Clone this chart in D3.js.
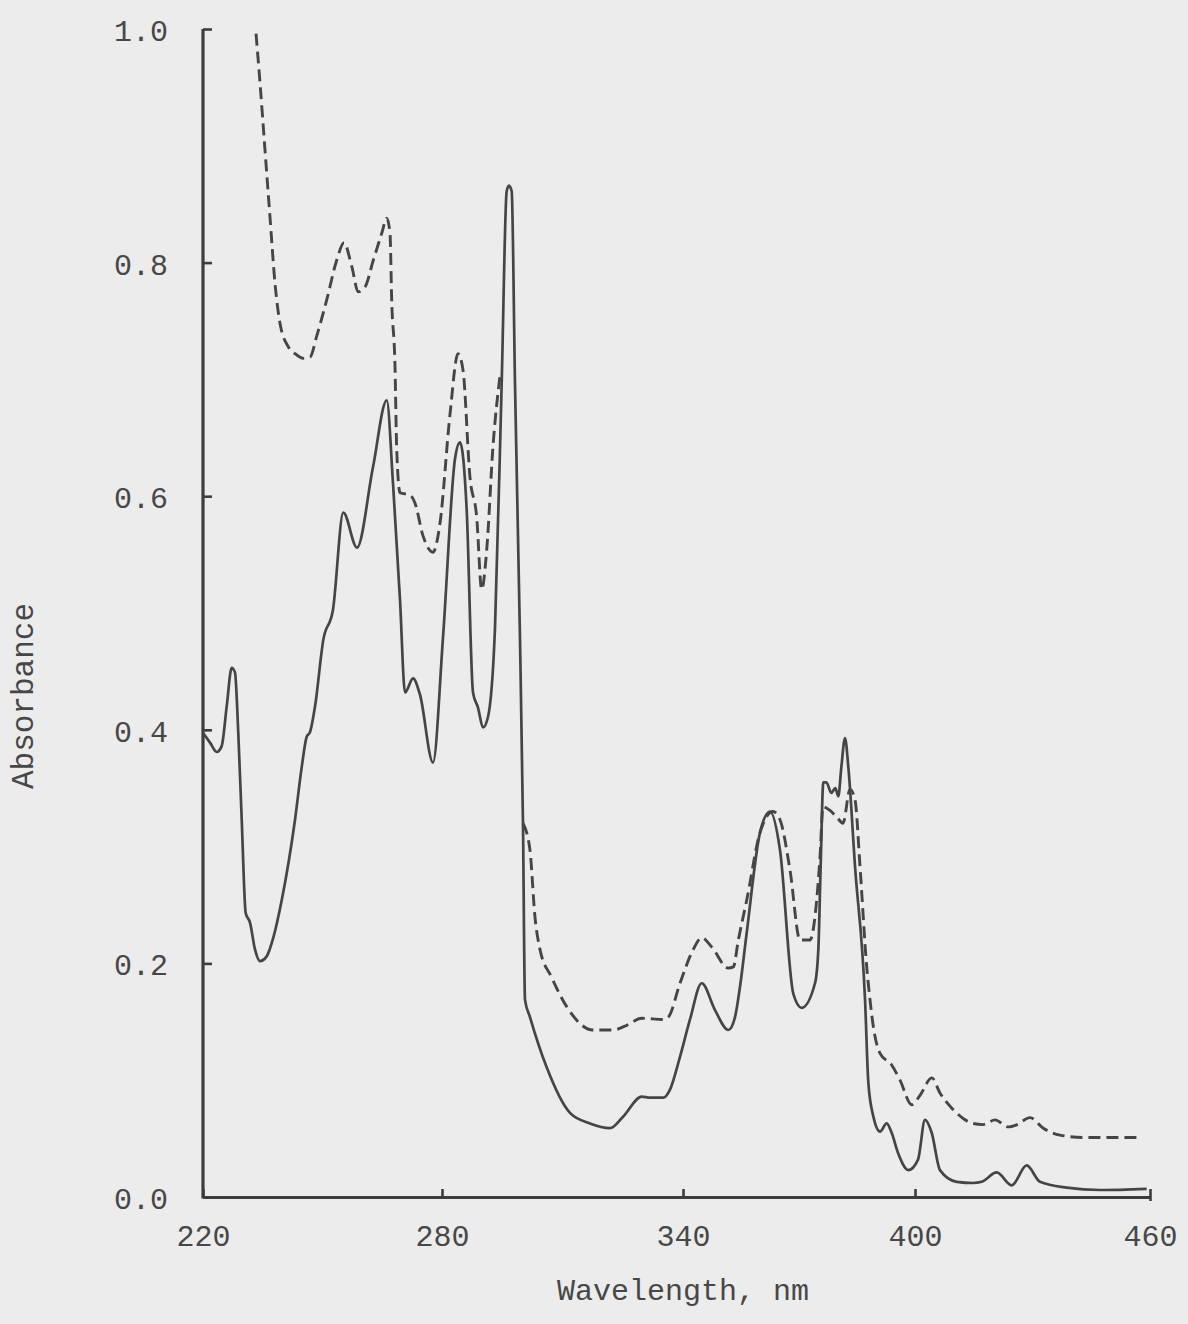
<!DOCTYPE html>
<html>
<head>
<meta charset="utf-8">
<script src="https://cdn.jsdelivr.net/npm/d3@7"></script>
<style>
  html, body { margin: 0; padding: 0; background: #ececec; }
  svg { display: block; }
  text { font-family: "Liberation Mono", "Courier New", monospace; fill: #474747; }
</style>
</head>
<body>
<script>
// ---------------- data ----------------
const wavelengthTicks = [220, 280, 340, 400, 460];
const absorbanceTicks = [0.0, 0.2, 0.4, 0.6, 0.8, 1.0];
const xTitle = "Wavelength, nm";
const yTitle = "Absorbance";

// solid spectrum
const solidNm = [220.08, 221.76, 223.44, 224.69, 225.95, 227.2, 228.03, 228.86, 229.72, 230.72,
  231.8, 233.05, 234.31, 235.99, 237.65, 239.76, 243.1, 244.78, 246.03, 246.86,
  248.12, 250.2, 252.64, 255.22, 258.66, 262.68, 266.12, 267.7, 269.46, 270.72,
  272.72, 274.48, 277.74, 280.25, 283.24, 284.48, 286.15, 287.72, 288.96, 290.21,
  291.45, 293.19, 294.86, 296.1, 296.67, 297.35, 298.17, 299.41, 300.16, 300.66,
  301.9, 306.06, 311.86, 316.84, 321.82, 325.13, 329.71, 331.78, 335.09, 336.76,
  339.25, 341.81, 344.84, 348.28, 351.72, 353.45, 354.74, 356.47, 359.91, 362.5,
  365.09, 368.53, 370.7, 374.14, 375.0, 375.6, 376.29, 377.07, 378.36, 379.4,
  380.17, 380.95, 381.9, 382.76, 384.49, 387.08, 387.93, 389.22, 390.96, 392.67,
  393.96, 395.69, 398.28, 400.77, 402.55, 404.26, 406.38, 410.65, 414.81, 417.03,
  420.86, 424.69, 428.52, 431.91, 438.73, 447.23, 459.15];
const solidAbs = [0.397, 0.389, 0.381, 0.386, 0.420, 0.453, 0.449, 0.397, 0.323, 0.243,
  0.235, 0.212, 0.202, 0.206, 0.222, 0.254, 0.323, 0.368, 0.394, 0.398,
  0.420, 0.477, 0.503, 0.586, 0.556, 0.625, 0.682, 0.611, 0.511, 0.432,
  0.444, 0.430, 0.372, 0.479, 0.632, 0.646, 0.588, 0.432, 0.419, 0.402,
  0.411, 0.487, 0.697, 0.861, 0.866, 0.861, 0.697, 0.479, 0.320, 0.169,
  0.154, 0.111, 0.072, 0.063, 0.059, 0.069, 0.086, 0.085, 0.085, 0.092,
  0.120, 0.152, 0.183, 0.160, 0.143, 0.154, 0.180, 0.226, 0.312, 0.330,
  0.297, 0.174, 0.162, 0.183, 0.212, 0.283, 0.355, 0.355, 0.346, 0.350,
  0.343, 0.368, 0.393, 0.368, 0.283, 0.169, 0.098, 0.069, 0.056, 0.063,
  0.055, 0.037, 0.023, 0.032, 0.066, 0.055, 0.023, 0.013, 0.012, 0.013,
  0.021, 0.010, 0.027, 0.013, 0.008, 0.006, 0.007];

// dashed spectrum (null = pen lifted where it runs on the solid trace)
const dashedNm = [233.31, 234.31, 235.57, 236.82, 238.08, 239.33, 241.41, 243.1, 245.18, 246.86,
  248.54, 251.05, 253.57, 255.4, 257.33, 258.99, 260.67, 262.75, 264.86, 266.12,
  266.95, 267.37, 268.2, 268.63, 269.46, 271.97, 273.23, 275.24, 277.74, 279.5,
  281.99, 283.98, 285.23, 286.97, 288.64, 289.88, 291.13, 292.7, 294.44, 297.0,
  300.16, 301.9, 303.14, 304.39, 307.3, 311.04, 317.59, 319.34, 322.57, 325.98,
  329.71, 335.09, 336.34, 339.25, 342.66, 344.84, 347.43, 351.72, 353.02, 354.31,
  356.47, 359.91, 363.28, 365.09, 367.67, 370.26, 372.84, 374.57, 375.43, 376.2,
  378.02, 379.83, 381.38, 383.19, 384.49, 385.78, 387.51, 388.36, 389.22, 390.95,
  393.97, 396.12, 399.15, 401.28, 404.29, 406.38, 409.7, 414.81, 417.36, 420.43,
  423.75, 426.05, 429.36, 432.68, 437.02, 442.89, 457.96];
const dashedAbs = [0.996, 0.954, 0.896, 0.839, 0.782, 0.748, 0.728, 0.722, 0.718, 0.719,
  0.737, 0.768, 0.802, 0.817, 0.797, 0.775, 0.779, 0.802, 0.825, 0.838,
  0.825, 0.768, 0.711, 0.640, 0.603, 0.601, 0.594, 0.566, 0.552, 0.577,
  0.670, 0.722, 0.708, 0.616, 0.582, 0.520, 0.554, 0.643, 0.703, null,
  0.320, 0.297, 0.240, 0.212, 0.188, 0.163, 0.143, 0.143, 0.143, 0.147,
  0.153, 0.152, 0.154, 0.183, 0.212, 0.222, 0.214, 0.196, 0.197, 0.220,
  0.254, 0.312, 0.330, 0.323, 0.280, 0.220, 0.220, 0.254, 0.291, 0.334,
  0.331, 0.325, 0.320, 0.349, 0.340, 0.283, 0.197, 0.169, 0.146, 0.123,
  0.113, 0.100, 0.079, 0.087, 0.102, 0.089, 0.075, 0.063, 0.062, 0.066,
  0.060, 0.062, 0.068, 0.059, 0.053, 0.051, 0.051];

// ---------------- layout ----------------
const W = 1188, H = 1324;
const ink = "#454545";
const axisInk = "#3d3d3d";

const svg = d3.select("body").append("svg")
  .attr("width", W).attr("height", H);

svg.append("rect").attr("width", W).attr("height", H).attr("fill", "#ececec");

// hand-typed axis: tick marks are not perfectly evenly spaced
const x = d3.scaleLinear().domain(wavelengthTicks).range([203, 442, 683, 915, 1150]);
const y = d3.scaleLinear().domain([0, 1]).range([1197, 29]);

// axes
const yAxis = d3.axisLeft(y)
  .tickValues(absorbanceTicks)
  .tickFormat(d3.format(".1f"))
  .tickSizeInner(-9).tickSizeOuter(0).tickPadding(35);
const gy = svg.append("g").attr("transform", `translate(${x(220)},0)`).call(yAxis);

const xAxis = d3.axisBottom(x)
  .tickValues(wavelengthTicks)
  .tickFormat(d3.format("d"))
  .tickSizeInner(-8).tickSizeOuter(0).tickPadding(28);
const gx = svg.append("g").attr("transform", `translate(0,${y(0)})`).call(xAxis);

[gx, gy].forEach(g => {
  g.select(".domain").attr("stroke", axisInk).attr("stroke-width", 3.2);
  g.selectAll(".tick line").attr("stroke", axisInk).attr("stroke-width", 2.6);
  g.selectAll(".tick text")
    .style("font-family", '"Liberation Mono", monospace')
    .attr("font-size", 30).attr("fill", "#4a4a4a");
});
gy.selectAll(".tick text").attr("dy", "0.38em");
gy.select(".domain").attr("d", `M0,${y(1)}V${y(0) + 1.5}`);

// small end mark at the right end of the wavelength axis
gx.selectAll(".tick").filter(d => d === 460).select("line")
  .attr("y1", 4).attr("y2", -8);

// axis titles
svg.append("text")
  .attr("x", 683).attr("y", 1300)
  .attr("text-anchor", "middle")
  .attr("font-size", 30)
  .text(xTitle);

svg.append("text")
  .attr("transform", "translate(33,696) rotate(-90)")
  .attr("text-anchor", "middle")
  .attr("font-size", 31)
  .text(yTitle);

// spectra
const solidData = solidNm.map((d, i) => [d, solidAbs[i]]);
const dashedData = dashedNm.map((d, i) => [d, dashedAbs[i]]);

const line = d3.line()
  .defined(d => d[1] !== null)
  .x(d => x(d[0]))
  .y(d => y(d[1]))
  .curve(d3.curveMonotoneX);

svg.append("path")
  .datum(dashedData)
  .attr("fill", "none")
  .attr("stroke", ink)
  .attr("stroke-width", 2.9)
  .attr("stroke-dasharray", "12,6")
  .attr("d", line);

svg.append("path")
  .datum(solidData)
  .attr("fill", "none")
  .attr("stroke", ink)
  .attr("stroke-width", 2.7)
  .attr("stroke-linejoin", "round")
  .attr("d", line);
</script>
</body>
</html>
